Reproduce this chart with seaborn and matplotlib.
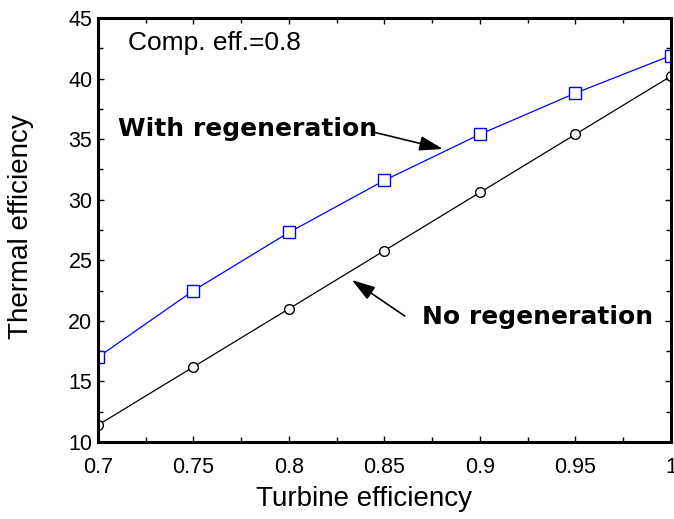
import matplotlib
matplotlib.use("Agg")
import matplotlib.pyplot as plt
from matplotlib.ticker import MultipleLocator
import seaborn as sns
import pandas as pd

# --- DATI ---
turbine_eff = [0.70, 0.75, 0.80, 0.85, 0.90, 0.95, 1.00]
eff_with_regen = [17.0, 22.5, 27.3, 31.6, 35.4, 38.8, 41.9]
eff_no_regen = [11.4, 16.2, 21.0, 25.8, 30.6, 35.4, 40.2]

x_ticks = [0.7, 0.75, 0.8, 0.85, 0.9, 0.95, 1.0]
x_tick_labels = ['0.7', '0.75', '0.8', '0.85', '0.9', '0.95', '1']
y_ticks = [10, 15, 20, 25, 30, 35, 40, 45]


def main():
    sns.set_theme(style="ticks")
    # font tipo Arial e testo nero (dopo set_theme, altrimenti viene sovrascritto)
    plt.rcParams['font.family'] = ['Liberation Sans', 'DejaVu Sans']
    plt.rcParams['text.color'] = 'black'
    plt.rcParams['axes.labelcolor'] = 'black'

    df = pd.DataFrame({
        'Turbine': turbine_eff,
        'WithRegen': eff_with_regen,
        'NoRegen': eff_no_regen,
    })

    fig = plt.figure(figsize=(6.74, 5.19), dpi=100)
    ax = fig.add_axes([0.1454, 0.1484, 0.8501, 0.8169])

    # Curva con rigenerazione (quadrati blu vuoti)
    sns.lineplot(data=df, x='Turbine', y='WithRegen', ax=ax, color='blue',
                 linewidth=0.9, marker='s', markersize=8.5,
                 markerfacecolor='white', markeredgecolor='blue',
                 markeredgewidth=1.0)
    # Curva senza rigenerazione (cerchi neri vuoti)
    sns.lineplot(data=df, x='Turbine', y='NoRegen', ax=ax, color='black',
                 linewidth=0.9, marker='o', markersize=7,
                 markerfacecolor='white', markeredgecolor='black',
                 markeredgewidth=1.0)

    # --- Assi ---
    ax.set_xlim(0.7, 1.0)
    ax.set_ylim(10, 45)
    ax.set_xticks(x_ticks)
    ax.set_xticklabels(x_tick_labels)
    ax.set_yticks(y_ticks)
    ax.xaxis.set_minor_locator(MultipleLocator(0.025))
    ax.yaxis.set_minor_locator(MultipleLocator(2.5))

    for spine in ax.spines.values():
        spine.set_visible(True)
        spine.set_linewidth(2.2)
        spine.set_color('black')

    ax.tick_params(which='both', direction='in', top=True, right=True,
                   width=1.0, color='black', labelcolor='black')
    ax.tick_params(which='major', length=4.5, labelsize=15.5)
    ax.tick_params(which='minor', length=3.5)
    ax.tick_params(axis='x', which='major', pad=11)
    ax.tick_params(axis='y', which='major', pad=4)

    ax.set_xlabel('Turbine efficiency', fontsize=20, color='black')
    ax.set_ylabel('Thermal efficiency', fontsize=20, color='black')
    ax.xaxis.set_label_coords(0.465, -0.105)
    ax.yaxis.set_label_coords(-0.112, 0.509)

    # --- Annotazioni ---
    ax.text(0.7157, 42.36, 'Comp. eff.=0.8', fontsize=19, va='baseline',
            ha='left', color='black')

    bold_font = dict(family=['DejaVu Sans'], fontsize=18, fontweight='bold',
                     color='black')
    ax.text(0.7105, 35.26, 'With regeneration', va='baseline', ha='left', **bold_font)
    ax.text(0.8696, 19.74, 'No regeneration', va='baseline', ha='left', **bold_font)

    arrow = dict(arrowstyle='-|>,head_length=0.8,head_width=0.25',
                 mutation_scale=18, color='black', lw=1.2,
                 shrinkA=0, shrinkB=0)
    ax.annotate('', xy=(0.8806, 34.19), xytext=(0.8440, 35.59), arrowprops=arrow)
    ax.annotate('', xy=(0.8329, 23.37), xytext=(0.8606, 20.40), arrowprops=arrow)

    fig.savefig('out.png', dpi=100)
    plt.close(fig)


if __name__ == "__main__":
    main()
